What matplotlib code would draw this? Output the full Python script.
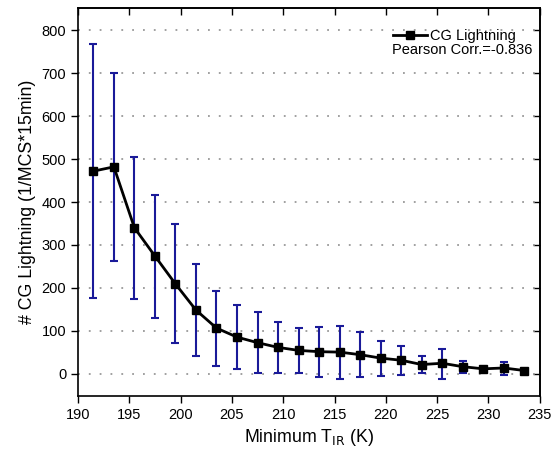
import matplotlib
matplotlib.use("Agg")
import matplotlib.pyplot as plt
from matplotlib.ticker import MultipleLocator

plt.rcParams['font.family'] = ['Liberation Sans', 'DejaVu Sans']

t_ir = [191.5, 193.5, 195.5, 197.5, 199.5, 201.5, 203.5, 205.5, 207.5, 209.5, 211.5,
        213.5, 215.5, 217.5, 219.5, 221.5, 223.5, 225.5, 227.5, 229.5, 231.5, 233.5]
cg_mean = [472, 482, 340, 274, 209, 148, 106, 85, 72, 61, 54,
           51, 50, 44, 36, 31, 21, 24, 16, 11, 13, 7]
err_upper = [768, 700, 506, 416, 348, 256, 193, 159, 143, 120, 106,
             108, 112, 96, 75, 65, 40, 58, 29, 15, 28, 10]
err_lower = [177, 262, 175, 130, 71, 40, 18, 11, 1, 2, 2,
             -8, -12, -8, -5, -4, 2, -12, 2, 7, -3, 4]
legend_label = "CG Lightning"
corr_text = "Pearson Corr.=-0.836"

yerr = [[m - lo for m, lo in zip(cg_mean, err_lower)],
        [hi - m for m, hi in zip(cg_mean, err_upper)]]

fig = plt.figure(figsize=(5.53, 4.55), dpi=100)
ax = fig.add_axes([0.141, 0.130, 0.835, 0.852])

ax.errorbar(t_ir, cg_mean, yerr=yerr, fmt='none', ecolor='#1a1a99',
            elinewidth=1.5, capsize=2.8, capthick=1.5, zorder=2)
ax.plot(t_ir, cg_mean, color='black', lw=2, marker='s', markersize=5.5,
        label=legend_label, zorder=3)

ax.set_xlim(190, 235)
ax.set_ylim(-52, 852)
ax.xaxis.set_major_locator(MultipleLocator(5))
ax.yaxis.set_major_locator(MultipleLocator(100))
ax.yaxis.grid(True, linestyle=(0, (1, 5)), color='#999999', lw=1.3)
ax.set_axisbelow(True)

ax.tick_params(axis='both', which='major', direction='out', length=5, width=1,
               labelsize=10.5, color='black')

top = ax.secondary_xaxis('top')
top.xaxis.set_major_locator(MultipleLocator(5))
top.tick_params(direction='in', length=5, width=1, labeltop=False)
right = ax.secondary_yaxis('right')
right.yaxis.set_major_locator(MultipleLocator(100))
right.tick_params(direction='in', length=5, width=1, labelright=False)

for s in ax.spines.values():
    s.set_linewidth(1.2)
top.spines['top'].set_linewidth(1.2)
right.spines['right'].set_linewidth(1.2)

ax.set_xlabel("Minimum T$_{\\rm IR}$ (K)", fontsize=12.8)
ax.set_ylabel("# CG Lightning (1/MCS*15min)", fontsize=12.8)

ax.legend(loc='center left', frameon=False, fontsize=10.5, handlelength=2.35,
          handletextpad=0.2, borderaxespad=0.0, borderpad=0.0,
          bbox_to_anchor=(0.682, 0.929))
ax.text(0.985, 0.892, corr_text, transform=ax.transAxes, ha='right', va='center',
        fontsize=10.5)

fig.savefig("out.png", dpi=100)
